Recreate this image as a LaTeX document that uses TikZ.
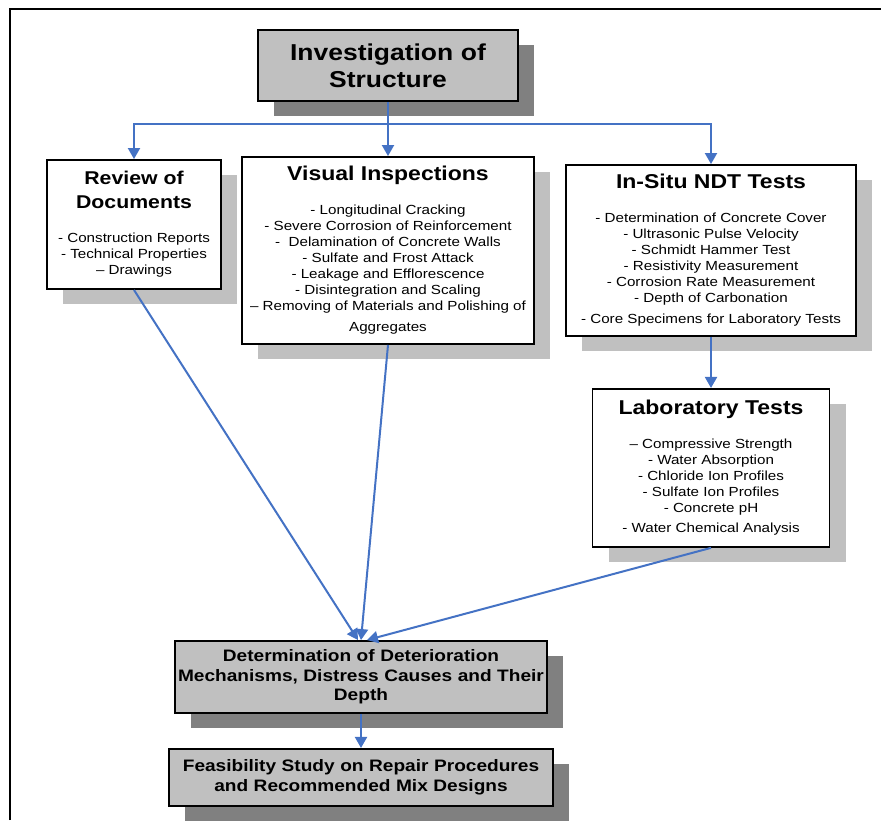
\documentclass[tikz,border=0pt]{standalone}
\usepackage{fontspec}
\setmainfont[FakeStretch=1.15]{Liberation Sans}
\usetikzlibrary{arrows.meta,positioning,shadows}

\definecolor{boxgrey}{HTML}{C0C0C0}
\definecolor{darkshade}{HTML}{808080}
\definecolor{flowblue}{HTML}{4472C4}

% heading and item list inside a white box
\newcommand{\boxhead}[2][20]{{\fontsize{#1}{24}\bfseries\selectfont
  \spaceskip=\fontdimen2\font\xspaceskip=\fontdimen2\font #2\par}\vspace{18pt}}
\newcommand{\boxitems}[1]{{\fontsize{13.2}{16}\selectfont
  \spaceskip=\fontdimen2\font\xspaceskip=\fontdimen2\font #1\par}}

\begin{document}
\begin{tikzpicture}[x=1pt,y=-1pt,
  panel/.style={draw, line width=1.9pt, inner xsep=1pt, inner ysep=0pt, align=center},
  box/.style={panel, fill=white,
    drop shadow={shadow xshift=16pt, shadow yshift=-15pt, fill=boxgrey, opacity=1}},
  greybox/.style={panel, fill=boxgrey,
    drop shadow={shadow xshift=16pt, shadow yshift=-15pt, fill=darkshade, opacity=1}},
  flow/.style={draw=flowblue, line width=2pt, -{Triangle[width=12pt,length=11pt]}},
  flowline/.style={draw=flowblue, line width=2pt}]
  \useasboundingbox (0,0) rectangle (881,820);

  % frame
  \draw[line width=2.4pt] (10,820) -- (10,9) -- (881,9);

  \node[greybox, minimum width=260pt, minimum height=71pt, text width=258pt,
        font={\fontsize{23}{27}\bfseries\selectfont}] (inv) at (388,65.5)
        {Investigation of\\Structure};

  \node[box, minimum width=174pt, minimum height=129pt, text width=172pt] (rev) at (134,224.5)
        {\boxhead[18.5]{Review of\\Documents}%
         \boxitems{- Construction Reports\\- Technical Properties\\– Drawings}};

  \node[box, minimum width=292pt, minimum height=187pt, text width=290pt] (vis) at (388,250.5)
        {\boxhead{Visual Inspections}%
         \boxitems{- Longitudinal Cracking\\- Severe Corrosion of Reinforcement\\
         -\ \ Delamination of Concrete Walls\\- Sulfate and Frost Attack\\
         - Leakage and Efflorescence\\- Disintegration and Scaling\\
         – Removing of Materials and Polishing of\\[5pt]Aggregates}};

  \node[box, minimum width=290pt, minimum height=171pt, text width=288pt] (ndt) at (711,250.5)
        {\boxhead{In-Situ NDT Tests}%
         \boxitems{- Determination of Concrete Cover\\- Ultrasonic Pulse Velocity\\
         - Schmidt Hammer Test\\- Resistivity Measurement\\
         - Corrosion Rate Measurement\\- Depth of Carbonation\\[5pt]
         - Core Specimens for Laboratory Tests}};

  \node[box, minimum width=237pt, minimum height=158pt, text width=235pt] (lab) [below=51pt of ndt]
        {\boxhead{Laboratory Tests}%
         \boxitems{– Compressive Strength\\- Water Absorption\\- Chloride Ion Profiles\\
         - Sulfate Ion Profiles\\- Concrete pH\\[4pt]- Water Chemical Analysis}};

  \node[greybox, minimum width=372pt, minimum height=72pt, text width=370pt,
        font={\fontsize{16.6}{19.5}\bfseries\selectfont}] (det) at (361,677)
        {Determination of Deterioration\\Mechanisms, Distress Causes and Their\\Depth};

  \node[greybox, minimum width=384pt, minimum height=57pt, text width=382pt,
        font={\fontsize{16.6}{19.5}\bfseries\selectfont}] (feas) [below=34pt of det]
        {Feasibility Study on Repair Procedures\\and Recommended Mix Designs};

  \coordinate (bus) at (388,124);

  \path[flowline] (inv) -- (bus);
  \path[flow] (bus) -| (rev.north);
  \path[flow] (bus) -- (vis.north);
  \path[flow] (bus) -| (ndt.north);
  \path[flow] (ndt) -- (lab);
  \path[flow] (rev.south) -- ([xshift=-3pt]det.north);
  \path[flow] (vis.south) -- (det.north);
  \path[flow] (lab.south) -- ([xshift=6pt]det.north);
  \path[flow] (det) -- (feas);
\end{tikzpicture}
\end{document}
